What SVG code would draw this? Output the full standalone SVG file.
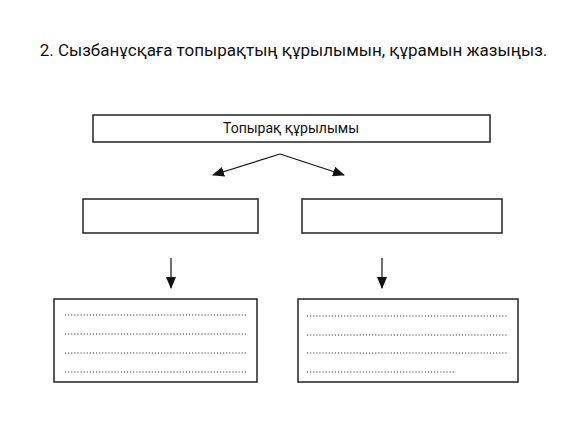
<svg xmlns="http://www.w3.org/2000/svg" width="587" height="447" viewBox="0 0 587 447">
<style>
.box{fill:#fff;stroke:#222;stroke-width:1.5}
.ln{stroke:#111;stroke-width:1.2;fill:none}
.dot{stroke:#333;stroke-width:1.1;stroke-dasharray:1.1 2;fill:none}
text{font-family:Roboto,"Liberation Sans",sans-serif;fill:#111}
</style>
<defs>
<marker id="ah" markerWidth="12" markerHeight="10" refX="11" refY="5" orient="auto" markerUnits="userSpaceOnUse">
<path d="M0,0 L12,5 L0,10 Z" fill="#111"/>
</marker>
</defs>
<rect width="587" height="447" fill="#fff"/>
<text x="293.5" y="56" font-size="17" text-anchor="middle">2. Сызбанұсқаға топырақтың құрылымын, құрамын жазыңыз.</text>
<g id="top">
<rect class="box" x="93" y="115" width="397" height="27"/>
<text x="291" y="133" font-size="14" text-anchor="middle">Топырақ құрылымы</text>
</g>
<g id="mid-left"><rect class="box" x="83" y="199" width="175" height="34"/></g>
<g id="mid-right"><rect class="box" x="302" y="199" width="200" height="34"/></g>
<g id="bottom-left">
<rect class="box" x="54" y="299" width="203" height="83"/>
<line class="dot" x1="65" y1="315" x2="247" y2="315"/>
<line class="dot" x1="65" y1="334" x2="247" y2="334"/>
<line class="dot" x1="65" y1="353" x2="247" y2="353"/>
<line class="dot" x1="65" y1="372" x2="247" y2="372"/>
</g>
<g id="bottom-right">
<rect class="box" x="298" y="299" width="220" height="83"/>
<line class="dot" x1="307" y1="316" x2="508" y2="316"/>
<line class="dot" x1="307" y1="335" x2="508" y2="335"/>
<line class="dot" x1="307" y1="353" x2="508" y2="353"/>
<line class="dot" x1="307" y1="372" x2="456" y2="372"/>
</g>
<g id="connectors">
<line class="ln" x1="280" y1="154" x2="213" y2="175" marker-end="url(#ah)"/>
<line class="ln" x1="280" y1="154" x2="344" y2="175" marker-end="url(#ah)"/>
<line class="ln" x1="171" y1="258" x2="171" y2="288" marker-end="url(#ah)"/>
<line class="ln" x1="382" y1="258" x2="382" y2="288" marker-end="url(#ah)"/>
</g>
</svg>
